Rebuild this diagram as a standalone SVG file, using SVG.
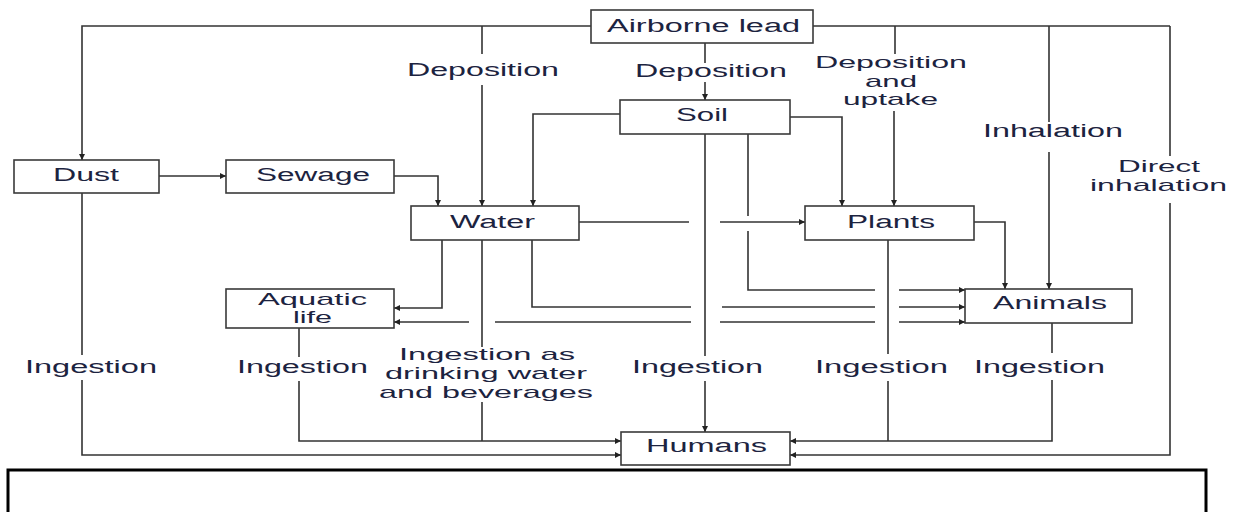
<svg xmlns="http://www.w3.org/2000/svg" width="1238" height="512" viewBox="0 0 1238 512">
<style>
.box{fill:#fff;stroke:#3a3a3a;stroke-width:1.6}
.ln{fill:none;stroke:#333;stroke-width:1.6}
.t{font-family:"Liberation Sans",Arial,sans-serif;font-size:18px;fill:#1c2340}
.s{font-size:17px}
</style>
<defs>
<marker id="ah" viewBox="0 0 10 10" refX="10" refY="5" markerWidth="7" markerHeight="6" markerUnits="userSpaceOnUse" orient="auto-start-reverse">
<path d="M0,0 L10,5 L0,10 z" fill="#222"/>
</marker>
</defs>
<rect x="0" y="0" width="1238" height="512" fill="#fff"/>
<g id="connectors">
<path class="ln" d="M591,26 H82 V160" marker-end="url(#ah)"/>
<path class="ln" d="M482,26 V54"/>
<path class="ln" d="M482,85 V206" marker-end="url(#ah)"/>
<path class="ln" d="M705,43 V63"/>
<path class="ln" d="M705,82 V100" marker-end="url(#ah)"/>
<path class="ln" d="M813,26 H1170"/>
<path class="ln" d="M895,26 V54"/>
<path class="ln" d="M894,111 V206" marker-end="url(#ah)"/>
<path class="ln" d="M1049,26 V122"/>
<path class="ln" d="M1049,152 V289" marker-end="url(#ah)"/>
<path class="ln" d="M1170,26 V156"/>
<path class="ln" d="M1170,203 V455 H790" marker-end="url(#ah)"/>
<path class="ln" d="M159,176 H226" marker-end="url(#ah)"/>
<path class="ln" d="M394,176 H438 V206" marker-end="url(#ah)"/>
<path class="ln" d="M620,114 H533 V206" marker-end="url(#ah)"/>
<path class="ln" d="M790,117 H842 V206" marker-end="url(#ah)"/>
<path class="ln" d="M705,134 V356"/>
<path class="ln" d="M705,381 V432" marker-end="url(#ah)"/>
<path class="ln" d="M748,134 V216"/>
<path class="ln" d="M748,231 V290 H875"/>
<path class="ln" d="M899,290 H965" marker-end="url(#ah)"/>
<path class="ln" d="M579,222 H689"/>
<path class="ln" d="M720,222 H805" marker-end="url(#ah)"/>
<path class="ln" d="M442,240 V308 H394" marker-end="url(#ah)"/>
<path class="ln" d="M532,240 V307 H691"/>
<path class="ln" d="M722,307 H875"/>
<path class="ln" d="M899,307 H965" marker-end="url(#ah)"/>
<path class="ln" d="M469,322 H394" marker-end="url(#ah)"/>
<path class="ln" d="M495,322 H691"/>
<path class="ln" d="M720,322 H875"/>
<path class="ln" d="M899,322 H965" marker-end="url(#ah)"/>
<path class="ln" d="M482,240 V347"/>
<path class="ln" d="M482,402 V441"/>
<path class="ln" d="M974,222 H1005 V289" marker-end="url(#ah)"/>
<path class="ln" d="M888,240 V354"/>
<path class="ln" d="M888,381 V441"/>
<path class="ln" d="M1052,323 V353"/>
<path class="ln" d="M1052,380 V441 H790" marker-end="url(#ah)"/>
<path class="ln" d="M299,328 V357"/>
<path class="ln" d="M299,381 V441 H621" marker-end="url(#ah)"/>
<path class="ln" d="M82,193 V355"/>
<path class="ln" d="M82,380 V455 H621" marker-end="url(#ah)"/>
</g>
<g id="labels">
<text class="t" x="407" y="76" textLength="152" lengthAdjust="spacingAndGlyphs">Deposition</text>
<text class="t" x="635" y="77" textLength="152" lengthAdjust="spacingAndGlyphs">Deposition</text>
<text class="t s" x="815" y="68" textLength="152" lengthAdjust="spacingAndGlyphs">Deposition</text>
<text class="t s" x="865" y="87" textLength="52" lengthAdjust="spacingAndGlyphs">and</text>
<text class="t s" x="843" y="105" textLength="95" lengthAdjust="spacingAndGlyphs">uptake</text>
<text class="t" x="983" y="137" textLength="140" lengthAdjust="spacingAndGlyphs">Inhalation</text>
<text class="t s" x="1118" y="172" textLength="82" lengthAdjust="spacingAndGlyphs">Direct</text>
<text class="t s" x="1090" y="191" textLength="137" lengthAdjust="spacingAndGlyphs">inhalation</text>
<text class="t" x="25" y="373" textLength="132" lengthAdjust="spacingAndGlyphs">Ingestion</text>
<text class="t" x="237" y="373" textLength="131" lengthAdjust="spacingAndGlyphs">Ingestion</text>
<text class="t" x="632" y="373" textLength="131" lengthAdjust="spacingAndGlyphs">Ingestion</text>
<text class="t" x="815" y="373" textLength="133" lengthAdjust="spacingAndGlyphs">Ingestion</text>
<text class="t" x="974" y="373" textLength="131" lengthAdjust="spacingAndGlyphs">Ingestion</text>
<text class="t s" x="399" y="360" textLength="176" lengthAdjust="spacingAndGlyphs">Ingestion as</text>
<text class="t s" x="385" y="379" textLength="202" lengthAdjust="spacingAndGlyphs">drinking water</text>
<text class="t s" x="379" y="398" textLength="214" lengthAdjust="spacingAndGlyphs">and beverages</text>
</g>
<g id="node-airborne">
<rect class="box" x="591" y="10" width="222" height="33"/>
<text class="t" x="607" y="32" textLength="193" lengthAdjust="spacingAndGlyphs">Airborne lead</text>
</g>
<g id="node-soil">
<rect class="box" x="620" y="100" width="170" height="34"/>
<text class="t" x="676" y="121" textLength="52" lengthAdjust="spacingAndGlyphs">Soil</text>
</g>
<g id="node-dust">
<rect class="box" x="14" y="160" width="145" height="33"/>
<text class="t" x="53" y="181" textLength="66" lengthAdjust="spacingAndGlyphs">Dust</text>
</g>
<g id="node-sewage">
<rect class="box" x="226" y="160" width="168" height="33"/>
<text class="t" x="256" y="181" textLength="114" lengthAdjust="spacingAndGlyphs">Sewage</text>
</g>
<g id="node-water">
<rect class="box" x="411" y="206" width="168" height="34"/>
<text class="t" x="450" y="228" textLength="85" lengthAdjust="spacingAndGlyphs">Water</text>
</g>
<g id="node-plants">
<rect class="box" x="805" y="206" width="169" height="34"/>
<text class="t" x="847" y="228" textLength="88" lengthAdjust="spacingAndGlyphs">Plants</text>
</g>
<g id="node-aquatic">
<rect class="box" x="226" y="289" width="168" height="39"/>
<text class="t s" x="258" y="305" textLength="109" lengthAdjust="spacingAndGlyphs">Aquatic</text>
<text class="t s" x="293" y="323" textLength="39" lengthAdjust="spacingAndGlyphs">life</text>
</g>
<g id="node-animals">
<rect class="box" x="965" y="289" width="167" height="34"/>
<text class="t" x="993" y="309" textLength="114" lengthAdjust="spacingAndGlyphs">Animals</text>
</g>
<g id="node-humans">
<rect class="box" x="621" y="432" width="169" height="33"/>
<text class="t" x="646" y="452" textLength="121" lengthAdjust="spacingAndGlyphs">Humans</text>
</g>
<rect x="8" y="470" width="1198" height="60" fill="none" stroke="#000" stroke-width="3"/>
</svg>
